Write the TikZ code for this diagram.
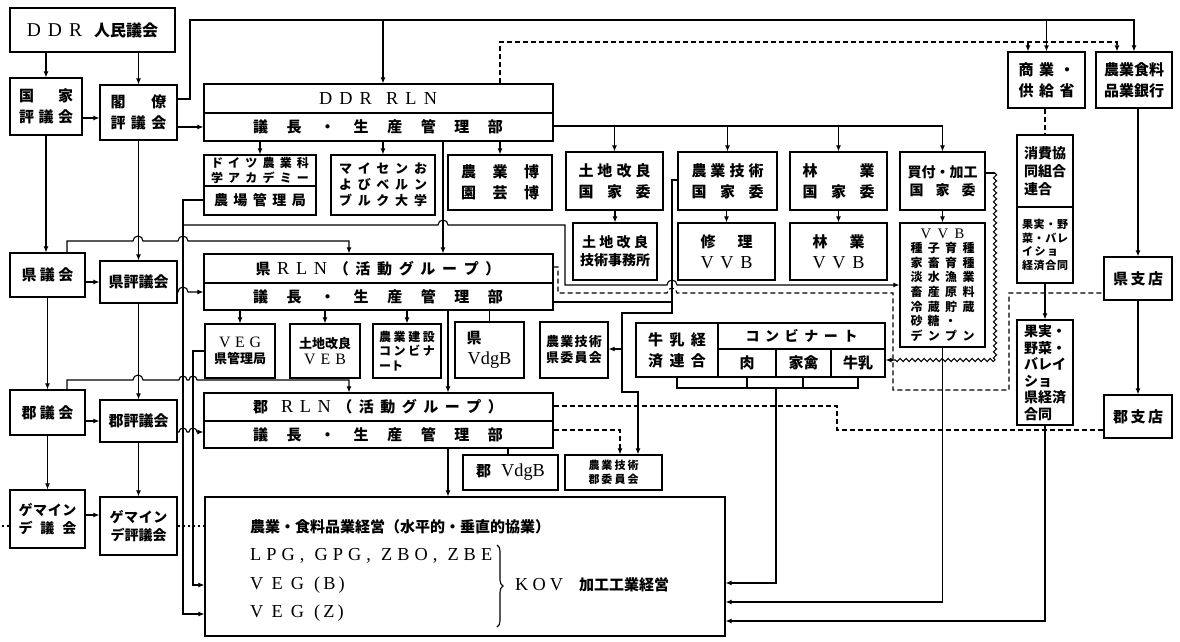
\documentclass[tikz,border=0pt]{standalone}
\usepackage{fontspec}
\setmainfont{Noto Sans CJK JP}
\newfontfamily\lat{Liberation Serif}[BoldFont=Liberation Serif,Scale=1.22]
\usetikzlibrary{arrows.meta,decorations.pathmorphing,decorations.pathreplacing}
\makeatletter
\def\spreadchars#1{\my@spreadA#1\@nil}
\def\my@spreadA#1#2\@nil{{#1}\ifx\relax#2\relax\else\hfill\my@spreadA#2\@nil\fi}
\makeatother
\newcommand\sprd[2]{\makebox[#1]{\spreadchars{#2}}}
\newcommand\mybox[7][]{\node[box,#1,minimum width={(#5-#3)*1pt},minimum height={(#6-#4)*1pt}] (#2) at ({(#3+#5)/2},{(#4+#6)/2}) {#7};}
\begin{document}
\begin{tikzpicture}[x=1pt,y=-1pt,
  box/.style={draw,line width=1.2pt,inner sep=0pt,align=center},
  txt/.style={inner sep=0pt,align=center},
  ln/.style={line width=1.1pt},
  arr/.style={ln,-{Latex[length=6pt,width=5pt]}},
  dsh/.style={ln,dash pattern=on 5pt off 3pt},
  darr/.style={dsh,-{Latex[length=6pt,width=5pt]}},
  wavy/.style={ln,decorate,decoration={snake,amplitude=1.6pt,segment length=6pt}},
  f16/.style={font=\fontsize{16}{20}\selectfont\bfseries},
  f15/.style={font=\fontsize{15}{21}\selectfont\bfseries},
  f14/.style={font=\fontsize{14}{18}\selectfont\bfseries},
  f13/.style={font=\fontsize{13}{16}\selectfont\bfseries},
  f12/.style={font=\fontsize{12}{14.6}\selectfont\bfseries},
  f11/.style={font=\fontsize{11}{13.5}\selectfont\bfseries}]
\useasboundingbox[fill=white] (0,0) rectangle (1180,642);

% ---------- boxes ----------
\mybox[f16]{jinmin}{10}{8}{175}{52}{{\lat D\hspace{7pt}D\hspace{7pt}R}\hspace{12pt}人民議会}
\mybox[f15]{kokka}{10}{78}{82}{135}{\sprd{54pt}{国家}\\\sprd{54pt}{評議会}}
\mybox[f15]{kakuryo}{100}{85}{177}{140}{\sprd{56pt}{閣僚}\\\sprd{56pt}{評議会}}
\mybox{ddrrln}{204}{84}{553}{141}{}
\draw[ln] (ddrrln.west |- 0,113) -- (ddrrln.east |- 0,113);
\node[txt,f15] (ddrrlnT) at (378,99) {{\lat\sprd{118pt}{DDR{}RLN}}};
\node[txt,f15] (ddrrlnB) at (378,127) {\sprd{250pt}{議長・生産管理部}};

\mybox{doitsu}{204}{155}{316}{215}{}
\draw[ln] (doitsu.west |- 0,186) -- (doitsu.east |- 0,186);
\node[txt,f12] (doitsuT) at (260,170.5) {\sprd{98pt}{ドイツ農業科}\\\sprd{98pt}{学アカデミー}};
\node[txt,f14] (doitsuB) at (260,200.5) {\sprd{92pt}{農場管理局}};
\mybox[f13]{maisen}{331}{155}{435}{215}{\sprd{88pt}{マイセンお}\\\sprd{88pt}{よびベルン}\\\sprd{88pt}{ブルク大学}}
\mybox[f15]{hakurankai}{448}{155}{552}{210}{\sprd{78pt}{農業博}\\\sprd{78pt}{園芸博}}
\mybox[f15]{tochikokka}{566}{152}{663}{210}{\sprd{72pt}{土地改良}\\\sprd{72pt}{国家委}}
\mybox[f15]{gijutsukokka}{678}{152}{777}{210}{\sprd{72pt}{農業技術}\\\sprd{72pt}{国家委}}
\mybox[f15]{ringyokokka}{790}{152}{887}{210}{\sprd{72pt}{林業}\\\sprd{72pt}{国家委}}
\mybox[f14]{kaitsuke}{900}{152}{985}{210}{\sprd{66pt}{買付・加工}\\\sprd{66pt}{国家委}}
\mybox[f15]{shogyo}{1008}{52}{1085}{108}{\sprd{56pt}{商業・}\\\sprd{56pt}{供給省}}
\mybox[f15]{bank}{1096}{52}{1172}{108}{\sprd{58pt}{農業食料}\\\sprd{58pt}{品業銀行}}
\mybox{shohi}{1017}{135}{1073}{283}{}
\draw[ln] (shohi.west |- 0,207) -- (shohi.east |- 0,207);
\node[txt,f14,align=left] (shohiT) at (1045,171) {消費協\\同組合\\連合};
\node[txt,f11] (shohiB) at (1045,245) {\sprd{46pt}{果実・野}\\\sprd{46pt}{菜・バレ}\\\makebox[46pt][l]{\sprd{36pt}{イショ}}\\\sprd{46pt}{経済合同}};
\mybox[f15]{kenshiten}{1104}{257}{1172}{300}{\sprd{50pt}{県支店}}
\mybox[f15]{gunshiten}{1104}{395}{1172}{438}{\sprd{50pt}{郡支店}}

\mybox[f14]{tochijimu}{573}{223}{657}{280}{\sprd{66pt}{土地改良}\\\sprd{66pt}{技術事務所}}
\mybox[f15]{shuri}{678}{223}{775}{280}{\sprd{52pt}{修理}\\{\lat\sprd{52pt}{VVB}}}
\mybox[f15]{ringyovvb}{790}{223}{887}{280}{\sprd{52pt}{林業}\\{\lat\sprd{52pt}{VVB}}}
\mybox[f12]{vvb}{900}{223}{985}{347}{{\lat\sprd{44pt}{VVB}}\\\sprd{64pt}{種子育種}\\\sprd{64pt}{家畜育種}\\\sprd{64pt}{淡水漁業}\\\sprd{64pt}{畜産原料}\\\sprd{64pt}{冷蔵貯蔵}\\\makebox[64pt][l]{\sprd{46pt}{砂糖・}}\\\sprd{64pt}{デンプン}}
\mybox[align=left,font=\fontsize{14}{16.5}\selectfont\bfseries]{kajitsu}{1017}{320}{1073}{425}{果実・\\野菜・\\バレイ\\ショ\\県経済\\合同}

\mybox[f15]{kengikai}{10}{253}{85}{297}{\sprd{52pt}{県議会}}
\mybox[f15]{kenhyogi}{100}{261}{177}{303}{県評議会}
\mybox{kenrln}{204}{254}{553}{310}{}
\draw[ln] (kenrln.west |- 0,283) -- (kenrln.east |- 0,283);
\node[txt,f15] (kenrlnT) at (378,268.5) {\sprd{245pt}{県{\lat R}{\lat L}{\lat N}（活動グループ）}};
\node[txt,f15] (kenrlnB) at (378,296.5) {\sprd{250pt}{議長・生産管理部}};
\mybox[f13]{vegken}{205}{324}{275}{378}{{\lat\sprd{42pt}{VEG}}\\県管理局}
\mybox[f13]{tochiveb}{290}{324}{360}{378}{土地改良\\{\lat\sprd{42pt}{VEB}}}
\mybox[f12]{kensetsu}{373}{324}{441}{378}{\sprd{56pt}{農業建設}\\\sprd{56pt}{コンビナ}\\\makebox[56pt][l]{\sprd{24pt}{ート}}}
\mybox[f15]{kenvdgb}{455}{322}{524}{378}{\makebox[46pt][l]{県}\\{\lat VdgB}}
\mybox[f13]{kenkomi}{540}{322}{608}{378}{\sprd{56pt}{農業技術}\\\sprd{56pt}{県委員会}}
\mybox{combo}{636}{323}{885}{377}{}
\draw[ln] (718,323) -- (718,377);
\draw[ln] (718,349) -- (combo.east |- 0,349);
\draw[ln] (776,349) -- (776,377);
\draw[ln] (831,349) -- (831,377);
\node[txt,f15] (comboL) at (677,350) {\sprd{58pt}{牛乳経}\\\sprd{58pt}{済連合}};
\node[txt,f14] (comboT) at (801.5,336) {\sprd{112pt}{コンビナート}};
\node[txt,f15] (niku) at (747,363) {肉};
\node[txt,f15] (kakin) at (803.5,363) {家禽};
\node[txt,f15] (milk) at (858,363) {牛乳};

\mybox[f15]{gungikai}{10}{390}{85}{435}{\sprd{52pt}{郡議会}}
\mybox[f15]{gunhyogi}{100}{400}{177}{442}{郡評議会}
\mybox{gunrln}{204}{393}{553}{448}{}
\draw[ln] (gunrln.west |- 0,421) -- (gunrln.east |- 0,421);
\node[txt,f15] (gunrlnT) at (378,407) {\sprd{250pt}{郡{}{\lat R}{\lat L}{\lat N}（活動グループ）}};
\node[txt,f15] (gunrlnB) at (378,434.5) {\sprd{250pt}{議長・生産管理部}};
\mybox[f15]{gunvdgb}{463}{455}{558}{490}{郡\hspace{10pt}{\lat VdgB}}
\mybox[f11]{gunkomi}{565}{455}{662}{490}{\sprd{50pt}{農業技術}\\\sprd{50pt}{郡委員会}}
\mybox[f14]{gemgikai}{10}{490}{85}{548}{\sprd{58pt}{ゲマイン}\\\sprd{58pt}{デ議会}}
\mybox[f14]{gemhyogi}{100}{497}{177}{555}{\sprd{58pt}{ゲマイン}\\デ評議会}

\mybox{bigbox}{205}{497}{725}{636}{}
\node[txt,f15,anchor=west] (t1) at (250,527) {農業・食料品業経営（水平的・垂直的協業）};
\node[txt,f15,anchor=west] (t2) at (250,556) {{\lat\sprd{242pt}{LPG,{}GPG,{}ZBO,{}ZBE}}};
\node[txt,f15,anchor=west] (t3) at (250,585) {{\lat\sprd{54pt}{VEG}\hspace{10pt}(\,B\,)}};
\node[txt,f15,anchor=west] (t4) at (250,613) {{\lat\sprd{54pt}{VEG}\hspace{10pt}(\,Z\,)}};
\draw[ln,decorate,decoration={brace,amplitude=6pt}] (497,545) -- (497,627);
\node[txt,f15,anchor=west] (t5) at (515,585) {{\lat\sprd{48pt}{KOV}}\hspace{16pt}加工工業経営};

% ---------- connectors: top ----------
\draw[arr] (kokka.north |- jinmin.south) -- (kokka.north);
\draw[arr] (kakuryo.north |- jinmin.south) -- (kakuryo.north);
\draw[arr] (kokka.east |- 0,118) -- (kakuryo.west |- 0,118);
\draw[arr] (kakuryo.east |- 0,99) -- (190,99) -- (190,20) -| (bank.north);
\draw[arr] (383,20) -- (ddrrln.north -| 383,0);
\draw[arr] (shogyo.north |- 0,20) -- (shogyo.north);
\draw[arr] (kakuryo.east |- 0,127) -- (ddrrln.west |- 0,127);
\draw[darr] (ddrrln.north -| 500,0) -- (500,42) -| (bank.north -| 1117,0);
\draw[darr] (1028,42) -- (shogyo.north -| 1028,0);
\draw[arr] (ddrrln.south -| doitsu.north) -- (doitsu.north);
\draw[arr] (ddrrln.south -| 383,0) -- (maisen.north -| 383,0);
\draw[arr] (ddrrln.south -| hakurankai.north) -- (hakurankai.north);
\draw[ln] (ddrrln.east |- 0,126) -- (kaitsuke.north |- 0,126);
\foreach \n in {tochikokka,gijutsukokka,ringyokokka,kaitsuke}
  \draw[arr] (\n.north |- 0,126) -- (\n.north);
\draw[arr] (tochijimu.north |- tochikokka.south) -- (tochijimu.north);
\draw[arr] (shuri.north |- gijutsukokka.south) -- (shuri.north);
\draw[arr] (ringyovvb.north |- ringyokokka.south) -- (ringyovvb.north);
\draw[arr] (kaitsuke.south) -- (vvb.north);
\draw[dsh] (shohi.north |- shogyo.south) -- (shohi.north);
\draw[arr] (shohi.south) -- (kajitsu.north);
\draw[arr] (kenshiten.north |- bank.south) -- (kenshiten.north);
\draw[arr] (kenshiten.south) -- (gunshiten.north);

% ---------- connectors: left columns ----------
\draw[arr] (kokka.south) -- (kokka.south |- kengikai.north);
\draw[arr] (kakuryo.south) -- (kakuryo.south |- kenhyogi.north);
\draw[arr] (kengikai.east |- 0,282) -- (kenhyogi.west |- 0,282);
\draw[arr] (kengikai.south) -- (kengikai.south |- gungikai.north);
\draw[arr] (kenhyogi.south) -- (kenhyogi.south |- gunhyogi.north);
\draw[arr] (gungikai.east |- 0,421) -- (gunhyogi.west |- 0,421);
\draw[arr] (gungikai.south) -- (gungikai.south |- gemgikai.north);
\draw[arr] (gunhyogi.south) -- (gunhyogi.south |- gemhyogi.north);
\draw[arr] (gemgikai.east |- 0,515) -- (gemhyogi.west |- 0,515);
\draw[ln,dash pattern=on 2pt off 3pt] (gemhyogi.east |- 0,526) -- (bigbox.west |- 0,526);
\draw[ln,dash pattern=on 2pt off 3pt] (2,526) -- (gemgikai.west |- 0,526);

\draw[arr] (kengikai.north -| 67,0) -- (67,241) -- (133,241) arc[start angle=180,end angle=360,radius=5]
  -- (178,241) arc[start angle=180,end angle=360,radius=5] -- (349,241) -- (kenrln.north -| 349,0);
\draw[arr] (doitsu.west |- 0,200) -- (183,200) -- (183,614) -- (bigbox.west |- 0,614);
\draw[arr] (183,225) -- (438,225) arc[start angle=180,end angle=360,radius=5] -- (565,225) -- (565,285)
  -- (667,285) arc[start angle=180,end angle=360,radius=5] -- (vvb.west |- 0,285);
\draw[arr] (vegken.west |- 0,351) -- (193,351) -- (193,585) -- (bigbox.west |- 0,585);
\draw[arr] (kenhyogi.east |- 0,292) -- (178,292) arc[start angle=180,end angle=360,radius=5] -- (kenrln.west |- 0,292);
\draw[arr] (gungikai.north -| 67,0) -- (67,380) -- (133,380) arc[start angle=180,end angle=360,radius=5]
  -- (179,380) arc[start angle=180,end angle=360,radius=4] -- (189,380) arc[start angle=180,end angle=360,radius=4]
  -- (349,380) -- (gunrln.north -| 349,0);
\draw[arr] (gunhyogi.east |- 0,432) -- (179,432) arc[start angle=180,end angle=360,radius=4]
  -- (189,432) arc[start angle=180,end angle=360,radius=4] -- (gunrln.west |- 0,432);

% ---------- connectors: RLN levels ----------
\draw[arr] (ddrrln.south -| 443,0) -- (kenrln.north -| 443,0);
\draw[arr] (kenrln.south -| vegken.north) -- (vegken.north);
\draw[arr] (kenrln.south -| tochiveb.north) -- (tochiveb.north);
\draw[arr] (kenrln.south -| kensetsu.north) -- (kensetsu.north);
\draw[ln] (kenrln.south -| kenvdgb.north) -- (kenvdgb.north);
\draw[arr] (kenrln.south -| 448,0) -- (gunrln.north -| 448,0);
\draw[arr] (gunrln.south -| 448,0) -- (bigbox.north -| 448,0);
\draw[dsh] (gunrln.south -| 508,0) -- (gunvdgb.north -| 508,0);
\draw[darr] (gunrln.east |- 0,430) -- (620,430) -- (gunkomi.north -| 620,0);
\draw[arr] (gijutsukokka.west |- 0,180) -- (672,180) -- (672,313) -- (622,313) -- (622,392) -- (638,392) -- (gunkomi.north -| 638,0);
\draw[arr] (622,349) -- (kenkomi.east |- 0,349);
\draw[ln] (kenrln.east |- 0,302) -- (672,302);

% ---------- combinate, VVB, fruit ----------
\draw[ln] (combo.south -| 677,0) -- (677,388) -- (858,388) -- (combo.south -| 858,0);
\draw[ln] (combo.south -| 747,0) -- (747,388);
\draw[ln] (combo.south -| 803,0) -- (803,388);
\draw[arr] (776,388) -- (776,583) -- (bigbox.east |- 0,583);
\draw[ln] (kaitsuke.east |- 0,173) -- (995,173);
\draw[wavy] (995,173) -- (995,360);
\draw[wavy] (995,360) -- (893,360);
\draw[arr] (893,360) -- (combo.east |- 0,360);
\draw[arr] (vvb.south) -- (vvb.south |- 0,602) -- (bigbox.east |- 0,602);
\draw[arr] (kajitsu.south) -- (kajitsu.south |- 0,621) -- (bigbox.east |- 0,621);

% ---------- dashed to bank branches ----------
\draw[dsh] (kenrln.east |- 0,267) -- (558,267) -- (558,293) -- (667,293) arc[start angle=180,end angle=360,radius=5]
  -- (893,293) -- (893,390) -- (1009,390) -- (1009,293) -- (kenshiten.west |- 0,293);
\draw[dsh] (gunrln.east |- 0,406) -- (837,406) -- (837,430) -- (gunshiten.west |- 0,430);
\end{tikzpicture}
\end{document}
